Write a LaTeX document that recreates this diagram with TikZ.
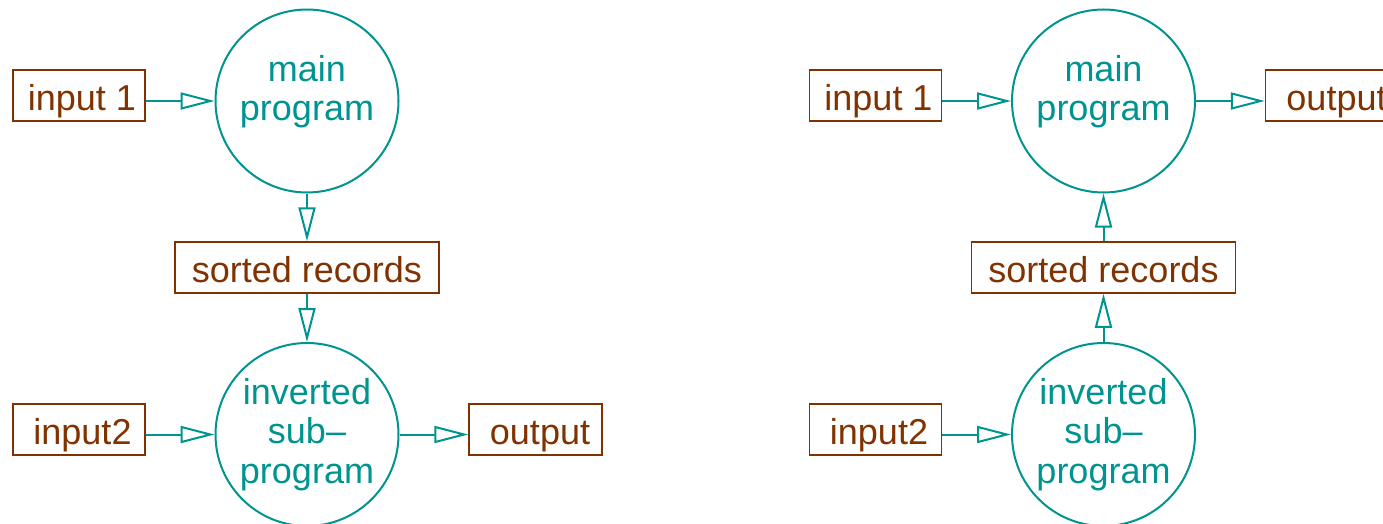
\documentclass[tikz,border=0pt]{standalone}
\usepackage{fontspec}
\setmainfont{Liberation Sans}
\usetikzlibrary{arrows.meta}
\definecolor{progteal}{RGB}{0,148,144}
\definecolor{recbrown}{RGB}{128,51,0}

\begin{document}
\begin{tikzpicture} [
			x=1pt, y=-1pt,
			font=\fontsize{36}{39.5}\selectfont,
			prog/.style={circle, draw=progteal, line width=2pt, minimum size=183pt, inner sep=0pt},
			progtext/.style={text=progteal, align=center, inner sep=0pt},
			box/.style={rectangle, draw=recbrown, line width=1.5pt, text height=40.5pt, text depth=10.5pt, inner sep=0pt, text=recbrown},
			arrow/.style={draw=progteal, line width=2pt, -{Triangle[open, length=34pt, width=17pt]}}
		]
		\useasboundingbox (0,0) rectangle (1383,524);

		% sub-program writes the sorted records
		\node at (307,101)   [prog] (main) {};
		\node at ([yshift=9.5pt]main.center) [progtext] (mainlbl) {main\\program};
		\node at (307,434.5) [prog, progtext] (inv) {inverted\\sub--\\program};
		\node at (79,95.5)   [box, minimum width=132pt] (inA) {\hspace{6pt}input 1};
		\node at (79,429.5)  [box, minimum width=132pt] (inB) {\hspace{7pt}input2};
		\node at (307,267.5) [box, minimum width=264pt] (sorted) {sorted records};
		\node at (535.5,429.5) [box, minimum width=133pt] (out) {\hspace{9pt}output};

		\draw [arrow] (inA.east |- main) -- (main);
		\draw [arrow] (main) -- (sorted);
		\draw [arrow] (sorted) -- (inv);
		\draw [arrow] (inB.east |- inv) -- (inv);
		\draw [arrow] (inv) -- (out.west |- inv);

		% main program reads the sorted records
		\node at (1103.5,101)   [prog] (mainR) {};
		\node at ([yshift=9.5pt]mainR.center) [progtext] (mainRlbl) {main\\program};
		\node at (1103.5,434.5) [prog, progtext] (invR) {inverted\\sub--\\program};
		\node at (875.5,95.5)   [box, minimum width=132pt] (inAR) {\hspace{6pt}input 1};
		\node at (875.5,429.5)  [box, minimum width=132pt] (inBR) {\hspace{7pt}input2};
		\node at (1103.5,267.5) [box, minimum width=264pt] (sortedR) {sorted records};
		\node at (1332,95.5)    [box, minimum width=133pt] (outR) {\hspace{9pt}output};

		\draw [arrow] (inAR.east |- mainR) -- (mainR);
		\draw [arrow] (mainR) -- (outR.west |- mainR);
		\draw [arrow] (sortedR) -- (mainR);
		\draw [arrow] (invR) -- (sortedR);
		\draw [arrow] (inBR.east |- invR) -- (invR);
	\end{tikzpicture}
\end{document}
